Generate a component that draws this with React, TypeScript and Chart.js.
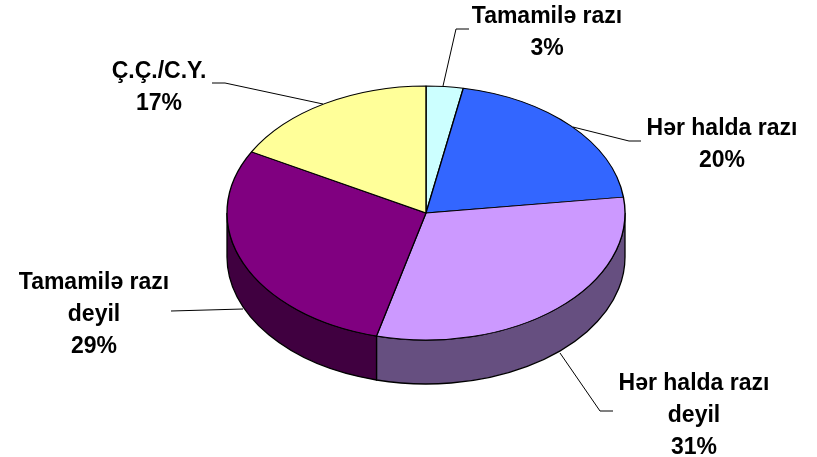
import React, { useEffect, useRef } from "react";
import { Chart, registerables } from "chart.js";

Chart.register(...registerables);

const categories = ["Tamamilə razı", "Hər halda razı", "Hər halda razı deyil", "Tamamilə razı deyil", "Ç.Ç./C.Y."];
const values = [3, 20, 31, 29, 17];
const topColors = ["#CCFFFF", "#3366FF", "#CC99FF", "#800080", "#FFFF99"];
const sideColors = ["#667F7F", "#1A3380", "#664F80", "#400040", "#80804C"];
const labelLines = [["Tamamilə razı", "3%"], ["Hər halda razı", "20%"], ["Hər halda razı", "deyil", "31%"], ["Tamamilə razı", "deyil", "29%"], ["Ç.Ç./C.Y.", "17%"]];
const labelCentres = [[547, 17], [722, 129], [694, 384], [94, 283], [159, 72]];
const leaders = [
  [[443, 86], [456, 29], [469, 29]],
  [[573, 127], [629, 141], [641, 141]],
  [[560, 353], [600, 411], [613, 411]],
  [[243, 309], [171, 311]],
  [[323, 104], [225, 83], [212, 83]],
];

const TILT = 127 / 199;
const DEPTH = 44;
const LINE_HEIGHT = 32;

const pie3d = {
  id: "pie3d",
  beforeDatasetsDraw(chart: any) {
    const ctx = chart.ctx;
    const arcs = chart.getDatasetMeta(0).data;
    ctx.save();
    arcs.forEach((arc: any, i: number) => {
      const { x, y, startAngle, endAngle, outerRadius } = arc.getProps(["x", "y", "startAngle", "endAngle", "outerRadius"]);
      const a = Math.max(startAngle, 0);
      const b = Math.min(endAngle, Math.PI);
      if (b <= a) return;
      const ry = outerRadius * TILT;
      ctx.beginPath();
      ctx.ellipse(x, y, outerRadius, ry, 0, a, b);
      ctx.ellipse(x, y + DEPTH, outerRadius, ry, 0, b, a, true);
      ctx.closePath();
      ctx.fillStyle = sideColors[i];
      ctx.fill();
      ctx.lineWidth = 1.3;
      ctx.strokeStyle = "#000";
      ctx.stroke();
    });
    const cy = arcs[0].y;
    ctx.translate(0, cy);
    ctx.scale(1, TILT);
    ctx.translate(0, -cy);
  },
  afterDatasetsDraw(chart: any) {
    const ctx = chart.ctx;
    ctx.restore();
    ctx.save();
    ctx.strokeStyle = "#000";
    ctx.lineWidth = 1;
    leaders.forEach((pts) => {
      ctx.beginPath();
      pts.forEach(([px, py], i) => (i ? ctx.lineTo(px, py) : ctx.moveTo(px, py)));
      ctx.stroke();
    });
    ctx.fillStyle = "#000";
    ctx.font = 'bold 23px "Liberation Sans"';
    ctx.textAlign = "center";
    ctx.textBaseline = "middle";
    labelLines.forEach((lines, i) => {
      lines.forEach((t, j) => ctx.fillText(t, labelCentres[i][0], labelCentres[i][1] + j * LINE_HEIGHT));
    });
    ctx.restore();
  },
};

export default function App() {
  const ref = useRef<HTMLCanvasElement>(null);
  useEffect(() => {
    const chart = new Chart(ref.current!, {
      type: "pie",
      data: {
        labels: categories,
        datasets: [{ data: values, backgroundColor: topColors, borderColor: "#000", borderWidth: 1.4, clip: false as any }],
      },
      options: {
        responsive: false,
        animation: false,
        radius: 199,
        layout: { padding: { left: 227, right: 192, top: 14, bottom: 45 } },
        plugins: { legend: { display: false }, tooltip: { enabled: false } },
      } as any,
      plugins: [pie3d],
    });
    return () => chart.destroy();
  }, []);
  return <canvas ref={ref} width={817} height={457} style={{ position: "absolute", left: 0, top: 0, width: 817, height: 457 }} />;
}
